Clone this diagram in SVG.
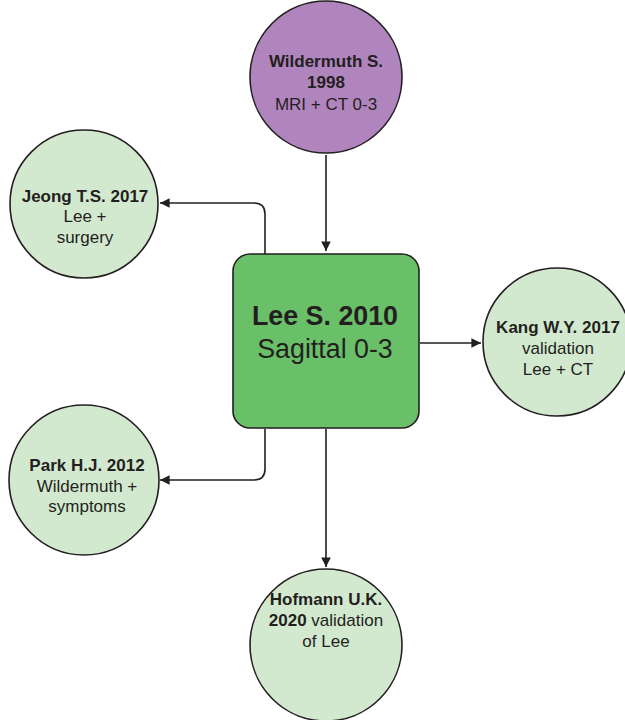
<svg xmlns="http://www.w3.org/2000/svg" width="625" height="720" viewBox="0 0 625 720">
<defs>
<style>
.c{stroke:#231f20;stroke-width:1.6}
.lg{fill:#d3e9cf}
.t{font-family:"Liberation Sans",Arial,sans-serif;font-size:17px;fill:#231f20;text-anchor:middle}
.b{font-weight:bold}
.big{font-size:26.8px}
.ln{fill:none;stroke:#231f20;stroke-width:1.6}
</style>
<marker id="ah" viewBox="0 0 10 10" refX="10" refY="5" markerWidth="6" markerHeight="6" orient="auto" markerUnits="strokeWidth">
<path d="M0,0 L10,5 L0,10 z" fill="#231f20"/>
</marker>
</defs>
<rect width="625" height="720" fill="#fff"/>
<g id="connectors">
<path class="ln" d="M326,155 V251" marker-end="url(#ah)"/>
<path class="ln" d="M265,254 V214 Q265,203 254,203 H160" marker-end="url(#ah)"/>
<path class="ln" d="M420,343 H481" marker-end="url(#ah)"/>
<path class="ln" d="M265,429 V469 Q265,480 254,480 H160" marker-end="url(#ah)"/>
<path class="ln" d="M326,429 V567" marker-end="url(#ah)"/>
</g>
<g id="wildermuth">
<circle class="c" cx="326" cy="77" r="76" fill="#b085be"/>
<text class="t b" x="326" y="67">Wildermuth S.</text>
<text class="t b" x="326" y="88">1998</text>
<text class="t" x="326" y="110">MRI + CT 0-3</text>
</g>
<g id="jeong">
<circle class="c lg" cx="84" cy="204" r="74"/>
<text class="t b" x="85" y="202">Jeong T.S. 2017</text>
<text class="t" x="85" y="222">Lee +</text>
<text class="t" x="85" y="243">surgery</text>
</g>
<g id="lee">
<rect class="c" x="233" y="254" width="186" height="174" rx="17" fill="#6abf69"/>
<text class="t b big" x="325" y="325">Lee S. 2010</text>
<text class="t big" x="325" y="358">Sagittal 0-3</text>
</g>
<g id="kang">
<circle class="c lg" cx="557" cy="342" r="74"/>
<text class="t b" x="558" y="333">Kang W.Y. 2017</text>
<text class="t" x="558" y="354">validation</text>
<text class="t" x="558" y="375">Lee + CT</text>
</g>
<g id="park">
<circle class="c lg" cx="84" cy="480" r="75"/>
<text class="t b" x="87" y="471">Park H.J. 2012</text>
<text class="t" x="87" y="492">Wildermuth +</text>
<text class="t" x="87" y="512">symptoms</text>
</g>
<g id="hofmann">
<circle class="c lg" cx="326" cy="645" r="76"/>
<text class="t" x="326" y="605"><tspan class="b">Hofmann U.K.</tspan></text>
<text class="t" x="326" y="626"><tspan class="b">2020</tspan> validation</text>
<text class="t" x="326" y="647">of Lee</text>
</g>
</svg>
